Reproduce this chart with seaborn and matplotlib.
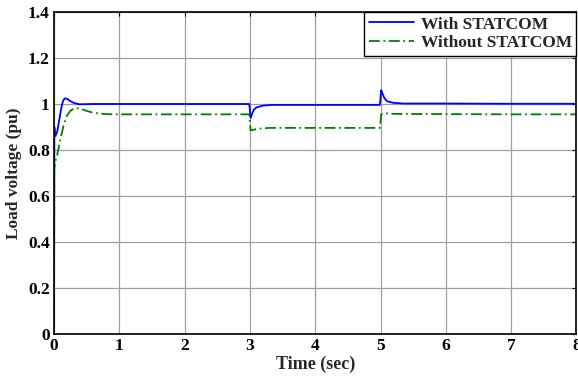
import numpy as np
import pandas as pd
import matplotlib
matplotlib.use("Agg")
import matplotlib.pyplot as plt
import seaborn as sns

# Samples (time in sec, voltage in pu)
t_with = [0.0, 0.005, 0.02, 0.05, 0.08, 0.11, 0.14, 0.17, 0.2, 0.25, 0.3, 0.38, 0.45, 0.6, 1.0, 2.0, 2.99,
          3.01, 3.03, 3.06, 3.1, 3.2, 3.35, 4.0, 4.99, 5.01, 5.03, 5.06, 5.1, 5.2, 5.35, 6.0, 7.0, 8.0]
v_with = [0.0, 0.9, 0.86, 0.88, 0.93, 0.98, 1.015, 1.025, 1.022, 1.013, 1.005, 0.999, 0.999, 1.0, 1.0, 1.0, 1.0,
          0.94, 0.955, 0.975, 0.985, 0.993, 0.996, 0.996, 0.996, 1.06, 1.045, 1.025, 1.012, 1.005, 1.002, 1.002, 1.001, 1.001]

t_without = [0.0, 0.005, 0.02, 0.05, 0.1, 0.15, 0.2, 0.25, 0.3, 0.35, 0.42, 0.5, 0.6, 0.75, 0.9, 1.2, 2.0, 2.99,
             3.01, 3.05, 3.15, 3.3, 4.0, 4.99, 5.01, 5.05, 5.2, 6.0, 7.0, 8.0]
v_without = [0.0, 0.72, 0.75, 0.78, 0.85, 0.91, 0.95, 0.97, 0.98, 0.982, 0.978, 0.97, 0.962, 0.957, 0.955, 0.955, 0.955, 0.955,
             0.885, 0.888, 0.893, 0.896, 0.896, 0.896, 0.955, 0.96, 0.957, 0.956, 0.955, 0.955]

labels = ["With STATCOM", "Without STATCOM"]
x_ticks = [0, 1, 2, 3, 4, 5, 6, 7, 8]
y_ticks = [0, 0.2, 0.4, 0.6, 0.8, 1, 1.2, 1.4]
y_tick_labels = ["0", "0.2", "0.4", "0.6", "0.8", "1", "1.2", "1.4"]

df = pd.concat([
    pd.DataFrame({"t": t_with, "v": v_with, "case": labels[0]}),
    pd.DataFrame({"t": t_without, "v": v_without, "case": labels[1]}),
])

sns.set_style("white")
plt.rcParams["font.family"] = ["Liberation Serif", "DejaVu Serif"]
plt.rcParams["font.weight"] = "bold"

fig = plt.figure(figsize=(5.78, 3.76), dpi=100)
ax = fig.add_axes([0.0934, 0.112, 0.904, 0.856])

sns.lineplot(data=df, x="t", y="v", hue="case", style="case",
             palette={labels[0]: "#0000ff", labels[1]: "#008000"},
             dashes={labels[0]: "", labels[1]: (6, 2, 1, 2)},
             estimator=None, sort=False, linewidth=1.3, ax=ax)

ax.set_xlim(0, 8)
ax.set_ylim(0, 1.4)
ax.set_xticks(x_ticks)
ax.set_xticklabels([str(x) for x in x_ticks], fontsize=12.5, fontweight="bold")
ax.set_yticks(y_ticks)
ax.set_yticklabels(y_tick_labels, fontsize=12.5, fontweight="bold")
ax.tick_params(direction="in", length=3, width=0.8, pad=3, colors="black")
ax.tick_params(top=True, right=True)
ax.grid(True, color="#a0a0a0", linewidth=0.9)
for s in ax.spines.values():
    s.set_color("black")
    s.set_linewidth(1.2)

ax.set_xlabel("Time (sec)", fontsize=13, fontweight="bold", labelpad=1)
ax.set_ylabel("Load voltage (pu)", fontsize=12.5, fontweight="bold", labelpad=4)

leg = ax.legend(loc="upper right", fontsize=12.5, frameon=True, fancybox=False,
                edgecolor="black", framealpha=1, borderaxespad=0.0,
                handlelength=2.6, handletextpad=0.4, borderpad=0.25, labelspacing=0.15)
leg.get_frame().set_linewidth(1.0)
for txt in leg.get_texts():
    txt.set_fontweight("bold")

fig.savefig("out.png", dpi=100)
